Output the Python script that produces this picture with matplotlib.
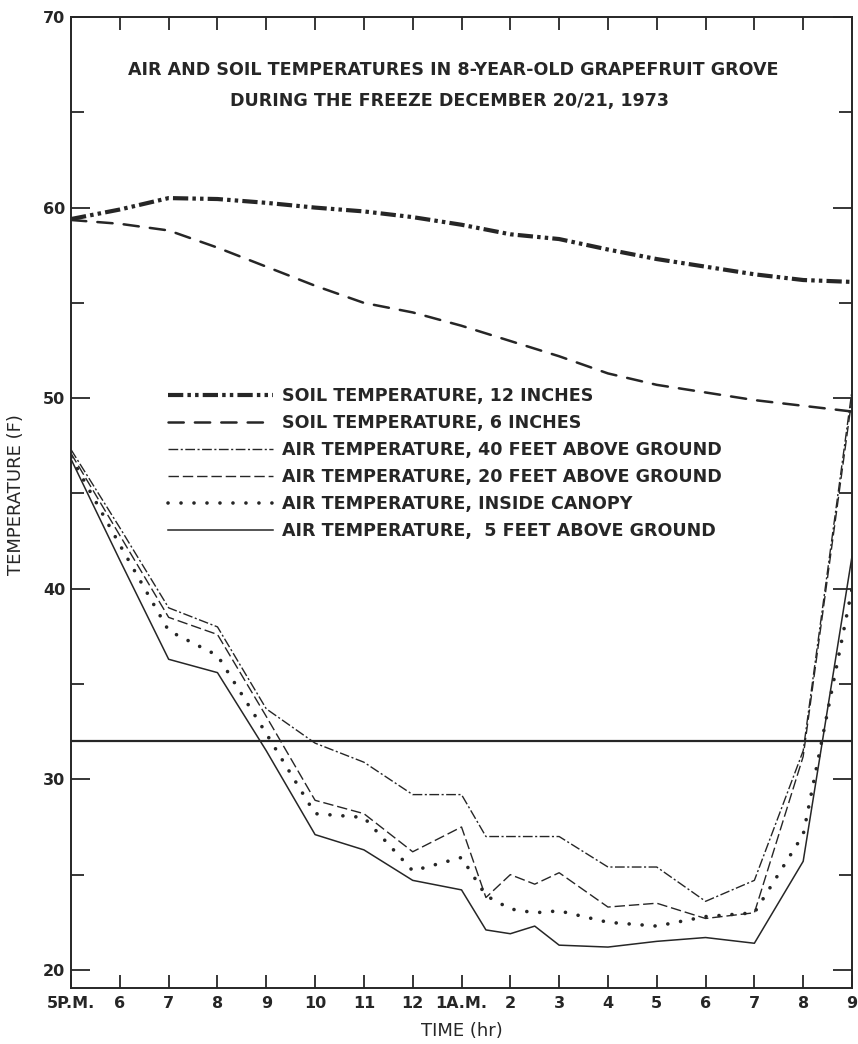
import matplotlib
matplotlib.use("Agg")
import matplotlib.pyplot as plt

# hours after 5 P.M.
hrs = [0, 1, 2, 3, 4, 5, 6, 7, 8, 9, 10, 11, 12, 13, 14, 15, 16]
hrs_air = [0, 1, 2, 3, 4, 5, 6, 7, 8, 8.5, 9, 9.5, 10, 11, 12, 13, 14, 15, 16]
hour_labels = ["5P.M.", "6", "7", "8", "9", "10", "11", "12", "1A.M.",
               "2", "3", "4", "5", "6", "7", "8", "9"]

# temperatures, deg F
soil_12in = [59.4, 59.9, 60.5, 60.45, 60.25, 60.0, 59.8, 59.5, 59.1,
             58.6, 58.35, 57.8, 57.3, 56.9, 56.5, 56.2, 56.1]
soil_6in = [59.35, 59.15, 58.8, 57.9, 56.9, 55.9, 55.0, 54.5, 53.8,
            53.0, 52.2, 51.3, 50.7, 50.3, 49.9, 49.6, 49.3]
air_40ft = [47.3, 43.2, 39.0, 38.0, 33.7, 31.9, 30.9, 29.2, 29.2, 27.0,
            27.0, 27.0, 27.0, 25.4, 25.4, 23.6, 24.7, 31.5, 50.4]
air_20ft = [47.1, 42.8, 38.5, 37.6, 33.3, 28.9, 28.2, 26.2, 27.5, 23.8,
            25.0, 24.5, 25.1, 23.3, 23.5, 22.7, 23.0, 31.2, 50.0]
air_canopy = [46.9, 42.3, 37.8, 36.5, 32.4, 28.2, 28.0, 25.2, 25.9, 23.9,
              23.2, 23.0, 23.1, 22.5, 22.3, 22.8, 23.0, 27.1, 40.0]
air_5ft = [46.8, 41.5, 36.3, 35.6, 31.5, 27.1, 26.3, 24.7, 24.2, 22.1,
           21.9, 22.3, 21.3, 21.2, 21.5, 21.7, 21.4, 25.7, 41.7]
freezing = 32

ink = "#262626"
plt.rcParams["font.family"] = "DejaVu Sans"
plt.rcParams["font.weight"] = "bold"


def dashes(lw, *pts):
    # dash lengths given in points, matplotlib scales them by line width
    return (0, tuple(p / lw for p in pts))


fig = plt.figure(figsize=(8.58, 10.44), dpi=100)
ax = fig.add_axes([0.0828, 0.0536, 0.9102, 0.9301])

ax.plot(hrs, soil_12in, color=ink, lw=3.0,
        ls=dashes(3.0, 11, 3, 2.5, 3, 2.5, 3),
        label="SOIL TEMPERATURE, 12 INCHES")
ax.plot(hrs, soil_6in, color=ink, lw=1.8, ls=dashes(1.8, 11, 8),
        dash_capstyle="round", label="SOIL TEMPERATURE, 6 INCHES")
ax.plot(hrs_air, air_40ft, color=ink, lw=1.0, ls=dashes(1.0, 7, 1.8, 1.5, 1.8),
        label="AIR TEMPERATURE, 40 FEET ABOVE GROUND")
ax.plot(hrs_air, air_20ft, color=ink, lw=1.0, ls=dashes(1.0, 7.5, 2.8),
        label="AIR TEMPERATURE, 20 FEET ABOVE GROUND")
ax.plot(hrs_air, air_canopy, color=ink, lw=2.6, ls=dashes(2.6, 0.05, 9.3),
        dash_capstyle="round", label="AIR TEMPERATURE, INSIDE CANOPY")
ax.plot(hrs_air, air_5ft, color=ink, lw=1.1,
        label="AIR TEMPERATURE,  5 FEET ABOVE GROUND")
ax.axhline(freezing, color=ink, lw=1.6)

ax.set_xlim(0, 16)
ax.set_ylim(19.05, 70)
ax.set_xticks(hrs)
ax.set_xticklabels(hour_labels)
ax.set_yticks([20, 30, 40, 50, 60, 70])
ax.set_yticks([25, 35, 45, 55, 65], minor=True)

for s in ax.spines.values():
    s.set_linewidth(1.4)
    s.set_color(ink)
ax.tick_params(axis="x", which="major", direction="in", top=True, length=9.5,
               width=1.3, pad=6, labelsize=11.5, colors=ink)
ax.tick_params(axis="y", which="major", direction="in", right=True, length=14,
               width=1.3, pad=4, labelsize=11.5, colors=ink)
ax.tick_params(axis="y", which="minor", direction="in", right=True, length=9.5,
               width=1.3, colors=ink)

ax.set_xlabel("TIME (hr)", fontsize=13, color=ink, labelpad=8)
ax.set_ylabel("TEMPERATURE (F)", fontsize=13, color=ink)
ax.yaxis.set_label_coords(-0.059, 0.508)

ax.text(0.49, 0.945, "AIR AND SOIL TEMPERATURES IN 8-YEAR-OLD GRAPEFRUIT GROVE",
        transform=ax.transAxes, ha="center", va="center", fontsize=12.6, color=ink)
ax.text(0.484, 0.914, "DURING THE FREEZE DECEMBER 20/21, 1973",
        transform=ax.transAxes, ha="center", va="center", fontsize=12.6, color=ink)

leg = ax.legend(loc="upper left", bbox_to_anchor=(0.124, 0.619), frameon=False,
                prop={"size": 12.6, "weight": "bold"}, handlelength=6.0,
                handletextpad=0.5, labelspacing=0.52, borderpad=0,
                borderaxespad=0)
for t in leg.get_texts():
    t.set_color(ink)

fig.savefig("out.png", dpi=100, facecolor="white")
